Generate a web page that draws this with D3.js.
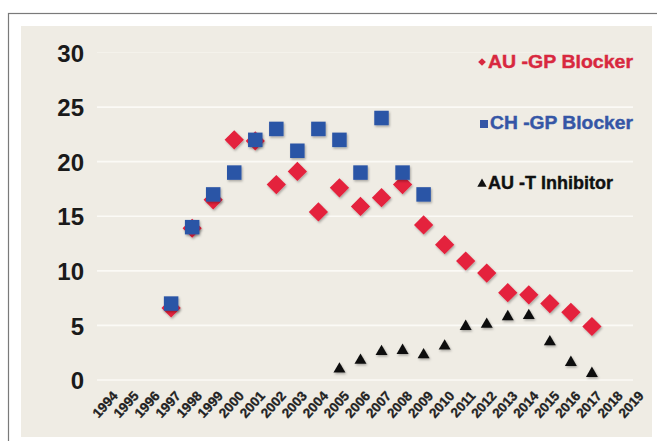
<!DOCTYPE html>
<html><head><meta charset="utf-8">
<script src="https://cdn.jsdelivr.net/npm/d3@7"></script>
<style>html,body{margin:0;padding:0;background:#fff;overflow:hidden}</style>
</head><body>
<svg id="c" width="657" height="441"></svg>
<script>
const years = d3.range(1994, 2020);
const auGpYears = [1997,1998,1999,2000,2001,2002,2003,2004,2005,2006,2007,2008,2009,2010,2011,2012,2013,2014,2015,2016,2017];
const auGpValues = [6.6,13.9,16.5,22.0,21.9,17.9,19.1,15.4,17.6,15.9,16.7,17.9,14.2,12.4,10.9,9.8,8.0,7.8,7.0,6.2,4.9];
const chGpYears = [1997,1998,1999,2000,2001,2002,2003,2004,2005,2006,2007,2008,2009];
const chGpValues = [7.0,14.0,17.0,19.0,22.0,23.0,21.0,23.0,22.0,19.0,24.0,19.0,17.0];
const auTYears = [2005,2006,2007,2008,2009,2010,2011,2012,2013,2014,2015,2016,2017];
const auTValues = [1.0,1.8,2.6,2.7,2.3,3.1,4.9,5.1,5.8,5.9,3.5,1.6,0.6];
const yTicks = [0,5,10,15,20,25,30];
const legendLabels = ["AU -GP Blocker","CH -GP Blocker","AU -T Inhibitor"];

const svg = d3.select("#c");
const defs = svg.append("defs");
const f = defs.append("filter").attr("id","sh").attr("x","-50%").attr("y","-50%").attr("width","200%").attr("height","200%");
f.append("feDropShadow").attr("dx",1).attr("dy",1.5).attr("stdDeviation",1.2).attr("flood-color","#000").attr("flood-opacity",0.3);

// outer frame and panel
svg.append("rect").attr("x",8.5).attr("y",13.5).attr("width",700).attr("height",500).attr("fill","#fff").attr("stroke","#7a7a7a").attr("stroke-width",1.2);
svg.append("rect").attr("x",21).attr("y",26).attr("width",631).attr("height",411).attr("fill","#efece4");

const x = d3.scalePoint().domain(years).range([108, 634]);
const y = d3.scaleLinear().domain([0,30]).range([380, 52.5]);

// gridlines
svg.append("g").selectAll("line").data(yTicks).join("line")
  .attr("x1",97).attr("x2",633).attr("y1",d=>y(d)).attr("y2",d=>y(d))
  .attr("stroke","#fbfaf6").attr("stroke-width",d=>d===30?0.8:1.6).attr("opacity",d=>d===30?0.5:1);

// y axis labels
const yAxis = d3.axisLeft(y).tickValues(yTicks).tickSize(0).tickPadding(0).tickFormat(d3.format("d"));
const gy = svg.append("g").attr("transform","translate(84,0)").call(yAxis);
gy.select(".domain").remove();
gy.selectAll("text").attr("font-family","Liberation Sans, Arial, sans-serif").attr("font-weight","bold")
  .attr("font-size","24px").attr("fill","#1a1a1a").attr("dy","0.36em");

// x axis labels
const xAxis = d3.axisBottom(x).tickSize(0).tickPadding(0).tickFormat(d3.format("d"));
const gx = svg.append("g").attr("transform","translate(0,391)").call(xAxis);
gx.select(".domain").remove();
gx.selectAll("text").attr("font-family","Liberation Sans, Arial, sans-serif").attr("font-weight","bold")
  .attr("font-size","13.5px").attr("fill","#222").attr("stroke","#222").attr("stroke-width",0.3)
  .attr("text-anchor","end")
  .attr("transform","translate(4,0) rotate(-48)").attr("dx",0).attr("dy","0.6em").attr("y",0);

const red = "#e4203c", blue = "#2c55a6", black = "#111";

// AU-GP diamonds
svg.append("g").attr("filter","url(#sh)").selectAll("path").data(auGpYears).join("path")
  .attr("d", d3.symbol().type(d3.symbolSquare).size(185))
  .attr("transform",(d,i)=>`translate(${x(d)},${y(auGpValues[i])}) rotate(45)`)
  .attr("fill",red);
// CH-GP squares
svg.append("g").attr("filter","url(#sh)").selectAll("path").data(chGpYears).join("path")
  .attr("d", d3.symbol().type(d3.symbolSquare).size(210))
  .attr("transform",(d,i)=>`translate(${x(d)},${y(chGpValues[i])})`)
  .attr("fill",blue);
// AU-T triangles
svg.append("g").attr("filter","url(#sh)").selectAll("path").data(auTYears).join("path")
  .attr("d", d3.symbol().type(d3.symbolTriangle).size(62))
  .attr("transform",(d,i)=>`translate(${x(d)},${y(auTValues[i])})`)
  .attr("fill",black);

// legend
const legend = [
  {label:legendLabels[0], color:"#d8283f", sym:"diamond", y:62, x0:488, len:145},
  {label:legendLabels[1], color:"#3556a6", sym:"square", y:123, x0:490, len:143},
  {label:legendLabels[2], color:"#111", sym:"triangle", y:183, x0:488, len:125}
];
const lg = svg.append("g");
legend.forEach(l=>{
  let p;
  if(l.sym==="diamond") p = lg.append("path").attr("d",d3.symbol().type(d3.symbolSquare).size(30)()).attr("transform",`translate(${l.x0-6},${l.y}) rotate(45)`);
  else if(l.sym==="square") p = lg.append("path").attr("d",d3.symbol().type(d3.symbolSquare).size(64)()).attr("transform",`translate(${l.x0-6},${l.y+1})`);
  else p = lg.append("path").attr("d",d3.symbol().type(d3.symbolTriangle).size(38)()).attr("transform",`translate(${l.x0-6},${l.y+1})`);
  p.attr("fill",l.color);
  lg.append("text").attr("x",l.x0).attr("y",l.y).attr("dy","0.36em")
    .attr("font-family","Liberation Sans, Arial, sans-serif").attr("font-weight","bold").attr("font-size","18px")
    .attr("fill",l.color).attr("stroke",l.color).attr("stroke-width",0.4)
    .attr("textLength",l.len).attr("lengthAdjust","spacingAndGlyphs").text(l.label);
});
</script>
</body></html>
